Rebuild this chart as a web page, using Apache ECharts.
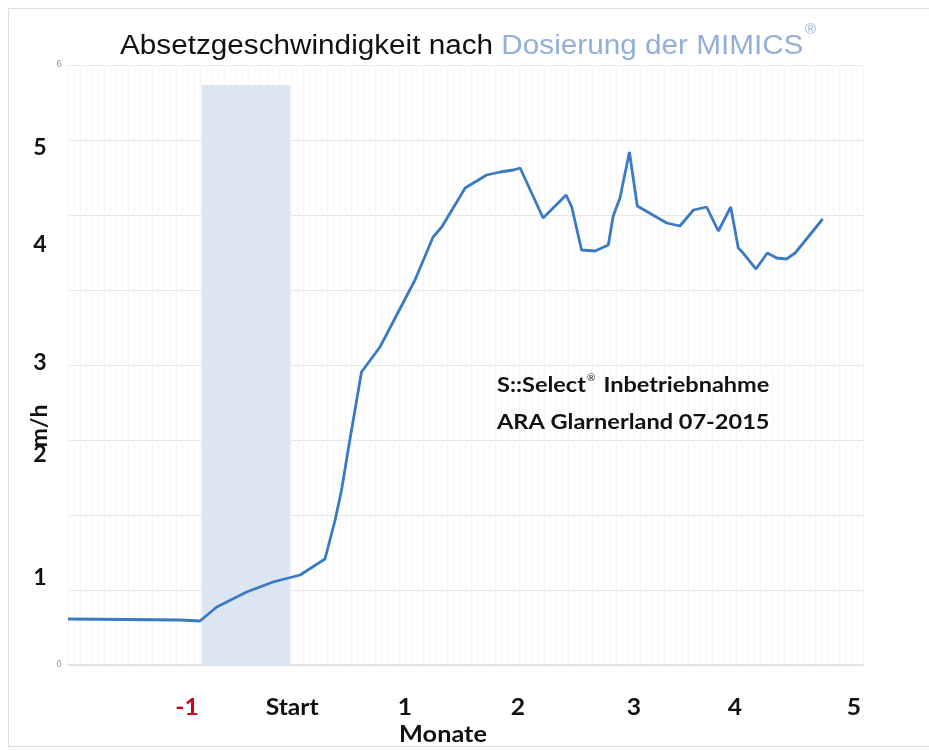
<!DOCTYPE html>
<html>
<head>
<meta charset="utf-8">
<script src="https://cdn.jsdelivr.net/npm/echarts@6/dist/echarts.min.js"></script>
<style>
  html, body { margin: 0; padding: 0; background: #fff; }
  #chart { width: 929px; height: 751px; }
</style>
</head>
<body>
<div id="chart"></div>
<script>
// Tage relativ zum Start der Dosierung (1 Monat ~ 30 Tage)
var days  = [-59, -29.3, -24, -19.5, -11.6, -4.6, 2.6, 9.2, 11.9, 13.6, 15.8, 18.9, 23.8, 33.1, 37.9, 40.2, 46.4, 52.1, 55.7, 59.2, 61,
             67.1, 73.2, 74.7, 77.3, 80.9, 84.4, 85.7, 87.5, 90, 92.1, 99.9, 103.4, 107, 110.5, 113.6, 116.9, 118.9, 120.2, 123.6, 126.6, 129.1, 131.7, 134, 141.3];
// Absetzgeschwindigkeit m/h
var speed = [0.46, 0.45, 0.44, 0.58, 0.73, 0.83, 0.90, 1.06, 1.45, 1.75, 2.25, 2.93, 3.18, 3.85, 4.28, 4.38, 4.77, 4.90, 4.93, 4.95, 4.97,
             4.47, 4.70, 4.58, 4.15, 4.14, 4.20, 4.49, 4.67, 5.13, 4.59, 4.42, 4.39, 4.55, 4.58, 4.34, 4.58, 4.17, 4.12, 3.96, 4.12, 4.07, 4.06, 4.12, 4.46];

// Zeitraum der Dosierung (blaues Band)
var doseRange = [-23.5, 0];
var doseTop = 5.8;

// Beschriftungen, wie im Original frei gesetzt
var monthTicks  = [-27.4, 0.5, 30.4, 60.4, 91.2, 118, 149.6];
var monthLabels = ['-1', 'Start', '1', '2', '3', '4', '5'];
var valueTicks  = [5.17, 4.2, 3.02, 2.1, 0.87];
var valueLabels = ['5', '4', '3', '2', '1'];

var chart = echarts.init(document.getElementById('chart'));

var option = {
    animation: false,
    backgroundColor: '#fff',
    grid: { left: 68, right: 66, top: 65, bottom: 86 },
    xAxis: [{
        type: 'value',
        min: -59,
        max: 152,
        axisLine: { show: true, lineStyle: { color: '#d8dde4', width: 1.5 } },
        axisTick: { show: false },
        axisLabel: { show: false },
        splitLine: { show: false }
    }, {
        // nur fuer die feinen senkrechten Linien im Hintergrund
        type: 'value',
        min: 0,
        max: 132,
        interval: 1,
        axisLine: { show: false },
        axisTick: { show: false },
        axisLabel: { show: false },
        splitLine: { show: true, lineStyle: { color: '#f5f5f5', width: 1 } }
    }],
    yAxis: {
        type: 'value',
        min: 0,
        max: 6,
        interval: 0.75,
        axisLine: { show: false },
        axisTick: { show: false },
        axisLabel: {
            color: '#999',
            fontSize: 9,
            margin: 6,
            fontFamily: 'DejaVu Sans',
            formatter: function (v) { return (v === 0 || v === 6) ? String(v) : ''; }
        },
        splitLine: { lineStyle: { color: '#e4e4e4', width: 1.2 } }
    },
    series: [{
        type: 'line',
        xAxisIndex: 0,
        data: days.map(function (d, i) { return [d, speed[i]]; }),
        symbol: 'none',
        smooth: false,
        lineStyle: { color: '#3a7ac3', width: 2.8 },
        markArea: {
            silent: true,
            itemStyle: { color: '#dce6f3' },
            data: [[{ xAxis: doseRange[0], yAxis: 0 }, { xAxis: doseRange[1], yAxis: doseTop }]]
        },
        z: 3
    }]
};
chart.setOption(option);

// frei gesetzte Texte (Original ist leicht in die Breite gezogen -> scaleX)
var graphics = [];
graphics.push({
    type: 'rect', silent: true, z: -10,
    shape: { x: 8.5, y: 8.5, width: 940, height: 738 },
    style: { fill: 'none', stroke: '#dcdcdc', lineWidth: 1 }
});
graphics.push({
    type: 'text', x: 120, y: 47, scaleX: 1.1, z: 10,
    style: {
        text: '{a|Absetzgeschwindigkeit nach }{b|Dosierung der MIMICS}',
        verticalAlign: 'middle',
        rich: {
            a: { fontFamily: 'Liberation Sans', fontSize: 27, fill: '#111' },
            b: { fontFamily: 'Liberation Sans', fontSize: 27, fill: '#93afd8' }
        }
    }
});
graphics.push({
    type: 'text', x: 805, y: 22, z: 10,
    style: { text: '®', fontFamily: 'Liberation Sans', fontSize: 15, fill: '#93afd8' }
});
// Anmerkung
graphics.push({
    type: 'text', x: 497, y: 385, scaleX: 1.12, z: 10,
    style: {
        text: '{t|S::Select}{s|®}{t| Inbetriebnahme}',
        verticalAlign: 'middle',
        rich: {
            t: { fontFamily: 'Lato', fontWeight: 'bold', fontSize: 21, fill: '#111' },
            s: { fontFamily: 'Lato', fontSize: 9, fill: '#111', verticalAlign: 'top', padding: [0, 2, 14, 1] }
        }
    }
});
graphics.push({
    type: 'text', x: 497, y: 422, scaleX: 1.12, z: 10,
    style: { text: 'ARA Glarnerland 07-2015', fontFamily: 'Lato', fontWeight: 'bold', fontSize: 21, fill: '#111', verticalAlign: 'middle' }
});
// Achsentitel
graphics.push({
    type: 'text', x: 40, y: 426, rotation: Math.PI / 2, scaleX: 1.05, z: 10,
    style: { text: 'm/h', fontFamily: 'Lato', fontWeight: 'bold', fontSize: 22, fill: '#111', align: 'center', verticalAlign: 'middle' }
});
graphics.push({
    type: 'text', x: 443, y: 735, scaleX: 1.15, z: 10,
    style: { text: 'Monate', fontFamily: 'Lato', fontWeight: 'bold', fontSize: 22, fill: '#111', align: 'center', verticalAlign: 'middle' }
});
// Monatsbeschriftung
monthTicks.forEach(function (t, i) {
    var px = chart.convertToPixel({ xAxisIndex: 0 }, t);
    graphics.push({
        type: 'text', x: px, y: 708, scaleX: 1.12, z: 10,
        style: {
            text: monthLabels[i], fontFamily: 'Lato', fontWeight: 'bold', fontSize: 22,
            fill: monthLabels[i] === '-1' ? '#d0021b' : '#111', align: 'center', verticalAlign: 'middle'
        }
    });
});
// grosse Werte links
valueTicks.forEach(function (v, i) {
    var py = chart.convertToPixel({ yAxisIndex: 0 }, v);
    graphics.push({
        type: 'text', x: 40, y: py, scaleX: 1.05, z: 10,
        style: { text: valueLabels[i], fontFamily: 'Lato', fontWeight: 'bold', fontSize: 22, fill: '#111', align: 'center', verticalAlign: 'middle' }
    });
});
chart.setOption({ graphic: graphics });
</script>
</body>
</html>
